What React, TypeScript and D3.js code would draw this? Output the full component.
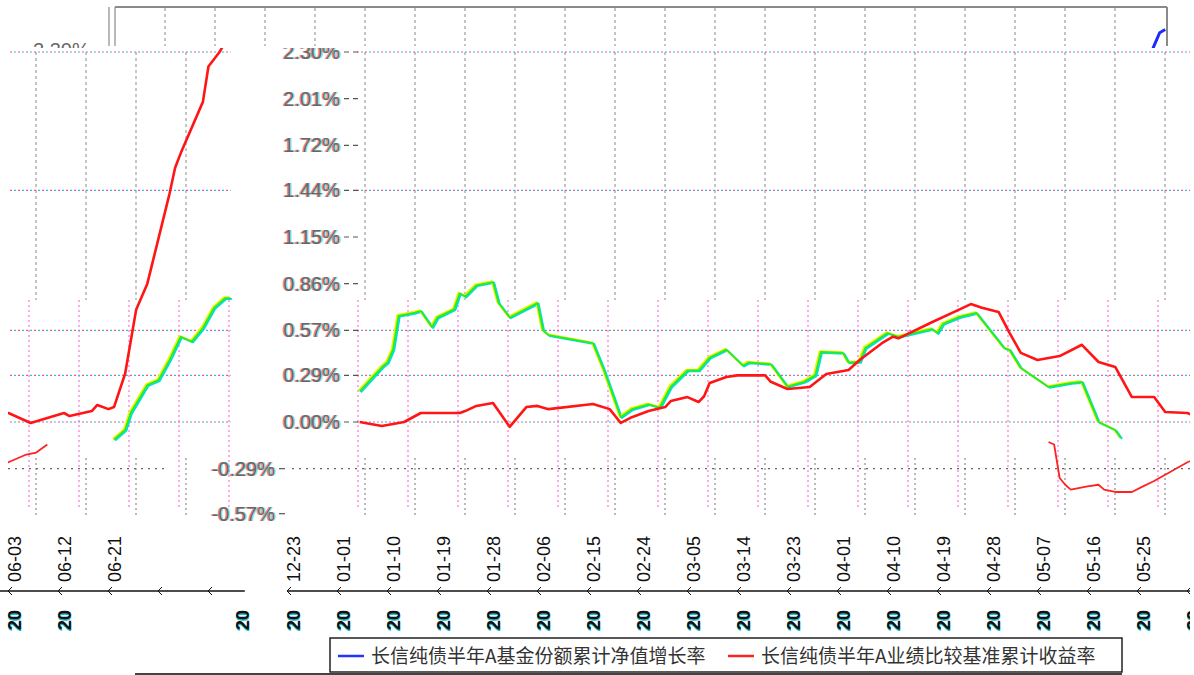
import * as React from "react";
import * as d3 from "d3";

const parse = d3.timeParse("%Y-%m-%d");
const fmt = d3.timeFormat("%m-%d");

// y axis
const yTickValues = [2.3, 2.01, 1.72, 1.44, 1.15, 0.86, 0.57, 0.29, 0, -0.29, -0.57];
const yTickLabels = ["2.30%", "2.01%", "1.72%", "1.44%", "1.15%", "0.86%", "0.57%", "0.29%", "0.00%", "-0.29%", "-0.57%"];
const pinkGridValues = [2.3, 1.44, 0.57, 0.29, 0];
const grayGridValues = [-0.29];

// x axis: a tick every 9 days from 2020-12-23
const firstTick = "2020-12-23";
const tickStepDays = 9;
const tickCount = 23;
const labelCount = 21;
const yearLabelCount = 20;
const yearLabelExtra = ["2021-07-14"];
const axisEnd = "2021-07-14";
const plotEnd = "2021-07-12";

// 长信纯债半年A 基金份额累计净值增长率 (drawn green in the picture)
const navDates = ["2021-01-04","2021-01-08","2021-01-09","2021-01-10","2021-01-11","2021-01-14","2021-01-15","2021-01-17","2021-01-18","2021-01-21","2021-01-22","2021-01-23","2021-01-25","2021-01-28","2021-01-29","2021-01-31","2021-02-05","2021-02-06","2021-02-07","2021-02-15","2021-02-17","2021-02-20","2021-02-22","2021-02-25","2021-02-27","2021-03-01","2021-03-04","2021-03-06","2021-03-08","2021-03-11","2021-03-14","2021-03-15","2021-03-19","2021-03-22","2021-03-25","2021-03-27","2021-03-28","2021-04-01","2021-04-02","2021-04-04","2021-04-05","2021-04-09","2021-04-11","2021-04-17","2021-04-18","2021-04-19","2021-04-22","2021-04-25","2021-04-30","2021-05-01","2021-05-03","2021-05-08","2021-05-12","2021-05-14","2021-05-17","2021-05-20","2021-05-21","2021-05-22","2021-06-21","2021-06-23","2021-06-24","2021-06-27","2021-06-29","2021-07-01","2021-07-03","2021-07-05","2021-07-07","2021-07-09","2021-07-11","2021-07-12"];
const navValues = [0.19,0.34,0.37,0.45,0.66,0.68,0.69,0.59,0.65,0.70,0.80,0.78,0.85,0.87,0.74,0.65,0.74,0.57,0.54,0.49,0.32,0.03,0.08,0.11,0.09,0.22,0.32,0.32,0.40,0.45,0.35,0.37,0.36,0.22,0.25,0.29,0.435,0.43,0.37,0.373,0.46,0.553,0.53,0.578,0.553,0.61,0.653,0.678,0.46,0.448,0.336,0.218,0.242,0.249,0.0,-0.05,-0.10,null,-0.11,-0.05,0.056,0.23,0.26,0.385,0.53,0.50,0.584,0.709,0.77,0.77];

// 长信纯债半年A 业绩比较基准累计收益率
const benchDates = ["2021-01-04","2021-01-08","2021-01-12","2021-01-15","2021-01-22","2021-01-23","2021-01-25","2021-01-28","2021-01-31","2021-02-03","2021-02-05","2021-02-07","2021-02-15","2021-02-18","2021-02-20","2021-02-22","2021-02-25","2021-02-28","2021-03-01","2021-03-04","2021-03-06","2021-03-07","2021-03-08","2021-03-11","2021-03-13","2021-03-18","2021-03-19","2021-03-22","2021-03-26","2021-03-29","2021-04-02","2021-04-04","2021-04-08","2021-04-10","2021-04-11","2021-04-17","2021-04-22","2021-04-24","2021-04-26","2021-04-29","2021-05-01","2021-05-03","2021-05-06","2021-05-10","2021-05-14","2021-05-17","2021-05-20","2021-05-23","2021-05-27","2021-05-29","2021-06-02","2021-06-06","2021-06-12","2021-06-13","2021-06-17","2021-06-18","2021-06-20","2021-06-21","2021-06-23","2021-06-24","2021-06-25","2021-06-27","2021-06-28","2021-07-01","2021-07-02","2021-07-03","2021-07-07","2021-07-08","2021-07-10","2021-07-11"];
const benchValues = [0.0,-0.025,0.0,0.056,0.056,0.068,0.10,0.118,-0.03,0.093,0.10,0.08,0.112,0.08,-0.006,0.03,0.068,0.093,0.13,0.155,0.124,0.16,0.242,0.28,0.29,0.29,0.25,0.205,0.218,0.298,0.323,0.385,0.49,0.53,0.52,0.62,0.70,0.733,0.71,0.684,0.553,0.43,0.385,0.41,0.48,0.373,0.342,0.155,0.155,0.062,0.056,-0.006,0.056,0.037,0.068,0.106,0.08,0.093,0.30,0.50,0.70,0.86,1.0,1.42,1.58,1.67,1.99,2.21,2.30,2.36];

// stray red trace in the lower band
const echoDates = ["2021-05-08","2021-05-09","2021-05-10","2021-05-11","2021-05-12","2021-05-15","2021-05-17","2021-05-18","2021-05-20","2021-05-23","2021-05-25","2021-05-27","2021-06-02","2021-06-05","2021-06-07","2021-06-09"];
const echoValues = [-0.124,-0.14,-0.348,-0.39,-0.42,-0.40,-0.39,-0.42,-0.435,-0.435,-0.40,-0.367,-0.25,-0.205,-0.19,-0.14];

// blue piece at the top edge
const blueDates = ["2021-07-10","2021-07-11","2021-07-12","2021-07-13"];
const blueValues = [2.25, 2.34, 2.42, 2.44];

const legendItems = [
  { name: "长信纯债半年A基金份额累计净值增长率", color: "#2233ff" },
  { name: "长信纯债半年A业绩比较基准累计收益率", color: "#ff2020" },
];

const width = 1194;
const height = 675;
const wrapWidth = 1179;
const topShift = -250;
const lowShift = -65;
const font = "'Liberation Sans', Arial, sans-serif";

const start = parse(firstTick)!;
const dayPx = 50 / tickStepDays;
const xScale = d3
  .scaleTime()
  .domain([start, parse(axisEnd)!])
  .range([293, 293 + d3.timeDay.count(start, parse(axisEnd)!) * dayPx]);
const yScale = d3.scaleLinear().domain([0, 2.3]).range([422, 52]);

const ticks = d3.range(tickCount).map(k => d3.timeDay.offset(start, k * tickStepDays));

const toPoints = (dates: string[], values: (number | null)[]) =>
  dates.map((d, i) => ({ date: parse(d)!, value: values[i] }));

const line = d3
  .line<{ date: Date; value: number | null }>()
  .defined(d => d.value !== null)
  .x(d => xScale(d.date))
  .y(d => yScale(d.value as number));

const navPath = line(toPoints(navDates, navValues)) || "";
const benchPath = line(toPoints(benchDates, benchValues)) || "";
const echoPath = line(toPoints(echoDates, echoValues)) || "";
const bluePath = line(toPoints(blueDates, blueValues)) || "";

const plotLeft = 357;
const plotRight = xScale(parse(plotEnd)!);

// the plot body, drawn once in place and once wrapped onto the left edge
const PlotBody = () => (
  <g>
    {ticks.slice(1).map((t, i) => (
      <line key={"gv" + i} x1={xScale(t) + 22} x2={xScale(t) + 22} y1={52} y2={300}
        stroke="#8a8a8a" strokeWidth={1} strokeDasharray="3,3" />
    ))}
    {ticks.slice(1).map((t, i) => (
      <line key={"pv" + i} x1={xScale(t) + 15} x2={xScale(t) + 15} y1={300} y2={510}
        stroke="#ff55cc" strokeWidth={1} strokeDasharray="2,3" />
    ))}
    {ticks.slice(1).map((t, i) => (
      <line key={"tv" + i} x1={xScale(t) + 22} x2={xScale(t) + 22} y1={458} y2={516}
        stroke="#777" strokeWidth={1} strokeDasharray="2,3" />
    ))}
    {pinkGridValues.map(v => (
      <g key={"hg" + v}>
        <line x1={plotLeft} x2={plotRight} y1={yScale(v)} y2={yScale(v)}
          stroke="#ff5577" strokeWidth={1.2} strokeDasharray="2,6" />
        <line x1={plotLeft + 4} x2={plotRight} y1={yScale(v)} y2={yScale(v)}
          stroke="#33bbee" strokeWidth={1.2} strokeDasharray="2,6" />
      </g>
    ))}
    <g fill="none" strokeLinejoin="round">
      <path d={navPath} stroke="#00dde8" strokeWidth={2} transform="translate(1.2,0.8)" />
      <path d={navPath} stroke="#f0f000" strokeWidth={2} transform="translate(-1.2,-0.8)" />
      <path d={navPath} stroke="#22ee22" strokeWidth={1.8} />
      <path d={benchPath} stroke="#ff1515" strokeWidth={2.6} />
      <path d={echoPath} stroke="#ff2222" strokeWidth={1.8} />
    </g>
  </g>
);

// x axis: line and year row use one clip, the date row another
const AxisBody = ({ lineClip, labelClip }: { lineClip: string; labelClip: string }) => {
  const yearDates = ticks.slice(0, yearLabelCount).concat(yearLabelExtra.map(d => parse(d)!));
  return (
    <g>
      <g clipPath={`url(#${lineClip})`}>
        <line x1={xScale(start) - 5} x2={xScale(parse(axisEnd)!) + 3} y1={591} y2={591} stroke="#111" strokeWidth={1.6} />
        {ticks.map((t, i) => (
          <path key={"ch" + i} d={`M${xScale(t) - 2},587 L${xScale(t) - 6},591 L${xScale(t) - 2},595`}
            fill="none" stroke="#111" strokeWidth={1} />
        ))}
        {yearDates.map((t, i) => (
          <g key={"yl" + i} transform={`translate(${xScale(t) + 7},630) rotate(-90)`}>
            <text x={-1.5} y={0} fontFamily={font} fontSize={18} fontWeight="bold" fill="#11bbcc">20</text>
            <text fontFamily={font} fontSize={18} fontWeight="bold" fill="#111">20</text>
          </g>
        ))}
      </g>
      <g clipPath={`url(#${labelClip})`}>
        {ticks.slice(0, labelCount).map((t, i) => (
          <text key={"xl" + i} transform={`translate(${xScale(t) + 7},582) rotate(-90)`}
            fontFamily={font} fontSize={18} fill="#111">{fmt(t)}</text>
        ))}
      </g>
    </g>
  );
};

const Fringed = ({ x, y, text }: { x: number; y: number; text: string }) => (
  <g fontFamily={font} fontSize={20} textAnchor="end">
    <text x={x - 1.3} y={y} fill="#ff3333" opacity={0.6}>{text}</text>
    <text x={x + 1.3} y={y} fill="#22cccc" opacity={0.5}>{text}</text>
    <text x={x} y={y} fill="#666">{text}</text>
  </g>
);

const App = () => {
  const low = (v: number) => v < 0;
  return (
    <svg width={width} height={height} style={{ position: "absolute", left: 0, top: 0, background: "#fff" }}
      fontFamily={font}>
      <defs>
        <clipPath id="topBand"><rect x={0} y={0} width={width} height={48} /></clipPath>
        <clipPath id="blueClip"><rect x={0} y={0} width={1167} height={48} /></clipPath>
        <clipPath id="plotMain"><rect x={232} y={48} width={958} height={470} /></clipPath>
        <clipPath id="plotLeft"><rect x={8 + wrapWidth} y={48} width={224} height={470} /></clipPath>
        <clipPath id="axisMain"><rect x={258} y={520} width={932} height={115} /></clipPath>
        <clipPath id="axisMainLabels"><rect x={258} y={520} width={926} height={115} /></clipPath>
        <clipPath id="axisLeft"><rect x={wrapWidth} y={520} width={252} height={115} /></clipPath>
        <clipPath id="bodyBand"><rect x={0} y={48} width={width} height={480} /></clipPath>
      </defs>

      {/* top strip */}
      <g clipPath="url(#topBand)">
        <line x1={xScale(ticks[1]) + 22 + topShift} x2={1167} y1={7} y2={7} stroke="#8a8a8a" strokeWidth={2} />
        <line x1={109} x2={109} y1={7} y2={46} stroke="#8a8a8a" strokeWidth={1.2} />
        <line x1={xScale(ticks[1]) + 22 + topShift} x2={xScale(ticks[1]) + 22 + topShift} y1={7} y2={46} stroke="#8a8a8a" strokeWidth={1.2} />
        <line x1={1167} x2={1167} y1={7} y2={46} stroke="#8a8a8a" strokeWidth={2} />
        {ticks.slice(2, 22).map((t, i) => (
          <line key={"tg" + i} x1={xScale(t) + 22 + topShift} x2={xScale(t) + 22 + topShift} y1={8} y2={46}
            stroke="#8a8a8a" strokeWidth={1} strokeDasharray="3,3" />
        ))}
        <text x={33} y={57} fontSize={20} fill="#666">{yTickLabels[0]}</text>
        <g clipPath="url(#blueClip)">
          <path d={bluePath} transform={`translate(${topShift},0)`} fill="none" stroke="#1a2cff" strokeWidth={3} />
        </g>
      </g>

      {/* plot body, in place and wrapped */}
      <g clipPath="url(#plotMain)"><PlotBody /></g>
      <g transform={`translate(${-wrapWidth},0)`}>
        <g clipPath="url(#plotLeft)"><PlotBody /></g>
      </g>

      {/* y axis */}
      <g clipPath="url(#bodyBand)">
        {grayGridValues.map(v => (
          <g key={"gg" + v} transform={`translate(${lowShift},0)`}>
            <line x1={plotLeft} x2={1190 - lowShift} y1={yScale(v)} y2={yScale(v)}
              stroke="#666" strokeWidth={1.2} strokeDasharray="2,5" />
            <line x1={8 - lowShift} x2={plotRight - wrapWidth} y1={yScale(v)} y2={yScale(v)}
              stroke="#666" strokeWidth={1.2} strokeDasharray="2,5" />
          </g>
        ))}
        {yTickValues.map((v, i) => {
          const dx = low(v) ? lowShift : 0;
          return (
            <g key={"yt" + i}>
              <Fringed x={340 + dx} y={yScale(v) + 7} text={yTickLabels[i]} />
              <line x1={344 + dx} x2={361 + dx} y1={yScale(v)} y2={yScale(v)} stroke="#555"
                strokeWidth={1.2} strokeDasharray={low(v) ? "6,20" : "5,4"} />
            </g>
          );
        })}
      </g>

      {/* x axis, in place and wrapped */}
      <AxisBody lineClip="axisMain" labelClip="axisMainLabels" />
      <g transform={`translate(${-wrapWidth},0)`}>
        <AxisBody lineClip="axisLeft" labelClip="axisLeft" />
      </g>

      {/* legend */}
      <line x1={135} x2={1122} y1={674} y2={674} stroke="#444" strokeWidth={2} />
      <rect x={330} y={638} width={792} height={34} fill="#fff" stroke="#222" strokeWidth={1.5} />
      {legendItems.map((item, i) => {
        const x0 = i === 0 ? 338 : 728;
        return (
          <g key={item.name}>
            <line x1={x0} x2={x0 + 26} y1={656} y2={656} stroke={item.color} strokeWidth={2.5} />
            <text x={x0 + 33} y={663} fontFamily="'Noto Sans CJK SC', sans-serif" fontSize={19} fill="#333">
              {item.name}
            </text>
          </g>
        );
      })}
    </svg>
  );
};

export default App;
